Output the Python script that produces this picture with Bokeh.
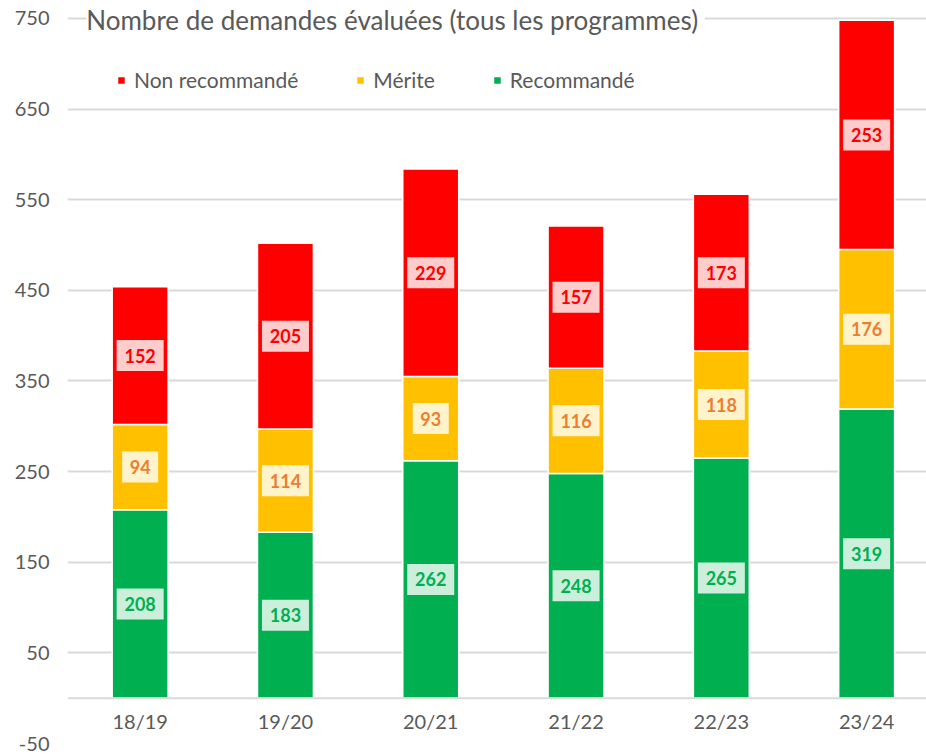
from bokeh.plotting import figure
from bokeh.models import ColumnDataSource, Range1d, FixedTicker, Span, Label, Legend, LegendItem
from bokeh.core.properties import value
from bokeh.embed import file_html
from bokeh.resources import INLINE

categories = ["18/19", "19/20", "20/21", "21/22", "22/23", "23/24"]
recommande = [208, 183, 262, 248, 265, 319]
merite = [94, 114, 93, 116, 118, 176]
non_recommande = [152, 205, 229, 157, 173, 253]
y_ticks = [-50, 50, 150, 250, 350, 450, 550, 650, 750]
title_text = "Nombre de demandes évaluées  (tous les programmes)"
series_names = ["Non recommandé", "Mérite", "Recommandé"]

FONT = "Lato"
GREY = "#595959"
colors = {"Recommandé": "#00B050", "Mérite": "#FFC000", "Non recommandé": "#FF0000"}
label_colors = {"Recommandé": "#00B050", "Mérite": "#ED7D31", "Non recommandé": "#FF0000"}

p = figure(width=926, height=755, output_backend="svg", toolbar_location=None,
           x_range=Range1d(-0.5, 5.412), y_range=Range1d(-50, 769.86),
           min_border_left=67, min_border_right=0, min_border_top=0, min_border_bottom=12)
p.outline_line_color = None
p.background_fill_color = "white"
p.border_fill_color = "white"

p.xaxis.visible = False
p.yaxis.ticker = FixedTicker(ticks=y_ticks)
p.yaxis.major_label_overrides = {t: str(t) for t in y_ticks}
p.yaxis.axis_line_color = None
p.yaxis.major_tick_line_color = None
p.yaxis.minor_tick_line_color = None
p.yaxis.major_tick_out = 0
p.yaxis.major_tick_in = 0
p.yaxis.major_label_text_font = FONT
p.yaxis.major_label_text_font_size = "20px"
p.yaxis.major_label_text_color = GREY
p.yaxis.major_label_standoff = 18
p.xgrid.visible = False
p.ygrid.ticker = FixedTicker(ticks=y_ticks)
p.ygrid.grid_line_color = "#D9D9D9"
p.ygrid.grid_line_width = 2

p.add_layout(Span(location=0, dimension="width", line_color="#D9D9D9", line_width=2))

xs = list(range(len(categories)))
bottoms_m = recommande
bottoms_n = [r + m for r, m in zip(recommande, merite)]
tops = [b + n for b, n in zip(bottoms_n, non_recommande)]

src = ColumnDataSource(dict(
    x=xs, cat=categories,
    r0=[0] * len(xs), r1=recommande,
    m0=bottoms_m, m1=bottoms_n,
    n0=bottoms_n, n1=tops,
    ylab=[-25] * len(xs),
))
bw = 0.385
vr = p.vbar(x="x", bottom="r0", top="r1", width=bw, source=src,
            fill_color=colors["Recommandé"], line_color="white", line_width=1.5)
vm = p.vbar(x="x", bottom="m0", top="m1", width=bw, source=src,
            fill_color=colors["Mérite"], line_color="white", line_width=1.5)
vn = p.vbar(x="x", bottom="n0", top="n1", width=bw, source=src,
            fill_color=colors["Non recommandé"], line_color="white", line_width=1.5)

def add_labels(vals, bottoms, name):
    mids = [b + v / 2 for b, v in zip(bottoms, vals)]
    txt = [str(v) for v in vals]
    wid = [11 * len(t) + 14 for t in txt]
    s = ColumnDataSource(dict(x=xs, y=mids, t=txt, w=wid))
    p.rect(x="x", y="y", width="w", height=31, width_units="screen", height_units="screen",
           source=s, fill_color="white", fill_alpha=0.8, line_color=None)
    p.text(x="x", y="y", text="t", source=s, text_font=value(FONT), text_font_style="bold",
           text_font_size="18px", text_color=label_colors[name],
           text_align="center", text_baseline="middle")

add_labels(recommande, [0] * len(xs), "Recommandé")
add_labels(merite, bottoms_m, "Mérite")
add_labels(non_recommande, bottoms_n, "Non recommandé")

# category labels inside the frame, below the zero line
p.text(x="x", y="ylab", text="cat", source=src,
       text_font=value(FONT), text_font_size="20px", text_color=GREY,
       text_align="center", text_baseline="middle")

title = Label(x=328, y=748, x_units="screen", y_units="data", text=title_text,
              text_font=FONT, text_font_size="26px", text_color=GREY,
              text_align="center", text_baseline="middle",
              background_fill_color="white", background_fill_alpha=1.0)
p.add_layout(title)

legend = Legend(items=[
    LegendItem(label=series_names[0], renderers=[vn]),
    LegendItem(label=series_names[1], renderers=[vm]),
    LegendItem(label=series_names[2], renderers=[vr]),
], orientation="horizontal", location=(49, 651),
    label_text_font=FONT, label_text_font_size="21px", label_text_color=GREY,
    glyph_width=10, glyph_height=10, spacing=57, label_standoff=8,
    background_fill_alpha=0, border_line_color=None)
p.add_layout(legend)

open("out.html", "w").write(file_html(p, INLINE))
